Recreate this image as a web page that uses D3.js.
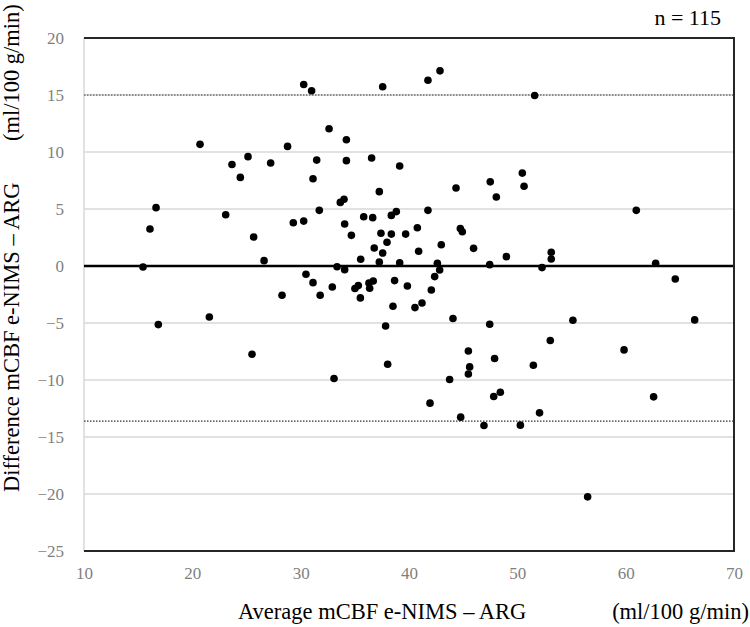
<!DOCTYPE html>
<html>
<head>
<meta charset="utf-8">
<script src="https://cdn.jsdelivr.net/npm/d3@7"></script>
<style>
  body { margin: 0; background: #fff; }
  text { font-family: "Liberation Serif", "Times New Roman", serif; }
</style>
</head>
<body>
<div id="chart"></div>
<script>
// Bland-Altman points: average (x) and difference (y)
var avgValues = [
    20.71, 23.66, 25.14, 24.43, 16.65, 23.08, 30.28, 31.01, 37.57, 41.75,
    42.86, 32.62, 34.22, 27.23, 28.79, 31.48, 34.22, 36.55, 39.14, 31.14,
    37.26, 44.34, 47.50, 33.66, 34.00, 31.72, 41.75, 35.82, 36.65, 38.37,
    38.83, 29.32, 30.28, 51.60, 50.46, 50.62, 48.06, 60.98, 16.09, 15.45,
    16.86, 21.57, 25.51, 34.06, 25.66, 26.62, 34.68, 37.41, 38.37, 39.69,
    40.77, 37.97, 36.79, 37.57, 40.89, 42.98, 44.74, 44.92, 45.96, 35.54,
    37.26, 39.14, 42.62, 42.83, 47.45, 33.36, 34.06, 30.49, 31.14, 32.92,
    35.01, 35.32, 36.37, 36.30, 36.70, 38.67, 39.85, 42.37, 42.06, 28.28,
    31.80, 35.51, 38.52, 40.55, 41.20, 44.06, 47.45, 37.84, 38.03, 45.48,
    45.60, 45.48, 33.08, 43.75, 41.94, 44.77, 48.99, 53.13, 53.13, 52.28,
    62.77, 64.58, 55.13, 66.37, 53.04, 47.90, 51.48, 59.85, 47.82, 48.43,
    62.58, 52.05, 46.92, 50.28, 56.49
];
var diffValues = [
    10.67, 8.91, 9.59, 7.77, 5.12, 4.50, 15.92, 15.37, 15.72, 16.30,
    17.12, 12.04, 11.08, 9.03, 10.49, 9.29, 9.24, 9.47, 8.77, 7.66,
    6.52, 6.84, 7.38, 5.58, 5.85, 4.88, 4.88, 4.32, 4.24, 4.44,
    4.77, 3.80, 3.94, 14.96, 8.15, 6.99, 6.05, 4.88, 3.24, -0.09,
    -5.14, -4.47, -7.74, 3.68, 2.54, 0.47, 2.69, 2.87, 2.80, 2.80,
    3.36, 2.08, 1.58, 1.14, 1.29, 1.87, 3.28, 3.01, 1.55, 0.59,
    0.35, 0.29, 0.24, -0.35, 0.12, -0.06, -0.32, -0.73, -1.46, -1.84,
    -1.98, -1.72, -1.95, -1.49, -1.31, -1.28, -1.75, -0.93, -2.10, -2.57,
    -2.57, -2.80, -3.53, -3.65, -3.24, -4.61, -5.11, -5.26, -8.62, -7.45,
    -8.85, -9.47, -9.87, -9.96, -12.03, -13.26, 0.82, 1.20, 0.61, -0.14,
    0.24, -1.14, -4.76, -4.73, -6.54, -8.12, -8.70, -7.36, -11.45, -11.07,
    -11.48, -12.88, -13.99, -13.96, -20.25
];
var xTicks = [10, 20, 30, 40, 50, 60, 70];
var yTicks = [20, 15, 10, 5, 0, -5, -10, -15, -20, -25];
var upperLimit = 15.0;
var lowerLimit = -13.6;

var svgWidth = 750;
var svgHeight = 627;

var margin = {
    top: 38,
    right: 16,
    bottom: 76,
    left: 84
};

var width = svgWidth - margin.left - margin.right;
var height = svgHeight - margin.top - margin.bottom;

var svg = d3.select("#chart")
    .append("svg")
    .attr("width", svgWidth)
    .attr("height", svgHeight);

var chartGroup = svg.append("g")
    .attr("transform", `translate(${margin.left}, ${margin.top})`);

var xScale = d3.scaleLinear()
    .domain([10, 70])
    .range([0, width]);

var yScale = d3.scaleLinear()
    .domain([-25, 20])
    .range([height, 0]);

// gridlines
chartGroup.selectAll(".grid")
    .data(yTicks.filter(d => d !== 20 && d !== -25 && d !== 0))
    .enter()
    .append("line")
    .attr("x1", 0)
    .attr("x2", width)
    .attr("y1", d => yScale(d))
    .attr("y2", d => yScale(d))
    .attr("stroke", "#d9d9d9")
    .attr("stroke-width", 1.5);

// left axis line (gray)
chartGroup.append("line")
    .attr("x1", 0).attr("x2", 0)
    .attr("y1", 0).attr("y2", height)
    .attr("stroke", "#d9d9d9")
    .attr("stroke-width", 1.5);

// limits of agreement
chartGroup.selectAll(".limit")
    .data([upperLimit, lowerLimit])
    .enter()
    .append("line")
    .attr("x1", 0)
    .attr("x2", width)
    .attr("y1", d => yScale(d))
    .attr("y2", d => yScale(d))
    .attr("stroke", "#333")
    .attr("stroke-width", 1.2)
    .attr("stroke-dasharray", "1.5,1.5");

// zero line
chartGroup.append("line")
    .attr("x1", 0).attr("x2", width)
    .attr("y1", yScale(0)).attr("y2", yScale(0))
    .attr("stroke", "#000")
    .attr("stroke-width", 2.5);

// frame top/right/bottom
chartGroup.append("path")
    .attr("d", `M0,${yScale(20)}H${width}V${yScale(-25)}H0`)
    .attr("fill", "none")
    .attr("stroke", "#262626")
    .attr("stroke-width", 2);

// axes (labels only)
var bottomAxis = d3.axisBottom(xScale).tickValues(xTicks).tickSize(0).tickPadding(16);
var leftAxis = d3.axisLeft(yScale).tickValues(yTicks).tickSize(0).tickPadding(20);

var xAxis = chartGroup.append("g")
    .attr("transform", `translate(0, ${height})`)
    .call(bottomAxis);

var yAxis = chartGroup.append("g")
    .call(leftAxis);

[xAxis, yAxis].forEach(function (ax) {
    ax.select(".domain").remove();
    ax.selectAll("text")
        .style("font-family", '"Liberation Serif", serif')
        .style("font-size", "17px")
        .attr("fill", "#7f7f7f");
});

// points
chartGroup.selectAll("circle")
    .data(avgValues)
    .enter()
    .append("circle")
    .attr("cx", d => xScale(d))
    .attr("cy", (d, i) => yScale(diffValues[i]))
    .attr("r", 3.8)
    .attr("fill", "#000");

// titles
svg.append("text")
    .attr("x", 238)
    .attr("y", 619)
    .style("font-size", "22.5px")
    .text("Average mCBF e-NIMS \u2013 ARG");

svg.append("text")
    .attr("x", 749)
    .attr("y", 619)
    .attr("text-anchor", "end")
    .style("font-size", "22.5px")
    .text("(ml/100 g/min)");

svg.append("text")
    .attr("transform", "translate(19, 492) rotate(-90)")
    .style("font-size", "22.5px")
    .text("Difference mCBF e-NIMS \u2013 ARG");

svg.append("text")
    .attr("transform", "translate(19, 141) rotate(-90)")
    .style("font-size", "22.5px")
    .text("(ml/100 g/min)");

svg.append("text")
    .attr("x", 721)
    .attr("y", 25)
    .attr("text-anchor", "end")
    .style("font-size", "22px")
    .text("n = 115");
</script>
</body>
</html>
